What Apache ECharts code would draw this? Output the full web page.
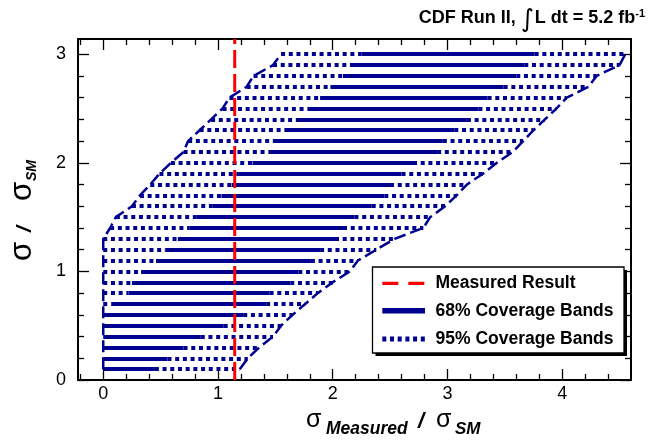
<!DOCTYPE html>
<html><head><meta charset="utf-8">
<script src="https://cdn.jsdelivr.net/npm/echarts@6/dist/echarts.min.js"></script>
<style>html,body{margin:0;padding:0;background:#fff}#c{width:648px;height:442px}</style>
</head><body><div id="c"></div>
<script>
// true cross section (sigma / sigma_SM) rows
const sigmaTrue = [0.1,0.2,0.3,0.4,0.5,0.6,0.7,0.8,0.9,1.0,1.1,1.2,1.3,1.4,1.5,1.6,1.7,1.8,1.9,2.0,2.1,2.2,2.3,2.4,2.5,2.6,2.7,2.8,2.9,3.0];
// 95% coverage band (sigma_measured / sigma_SM)
const lo95 = [0,0,0,0,0,0,0,0,0,0,0,0,0,0.06,0.11,0.25,0.32,0.41,0.49,0.59,0.70,0.74,0.84,0.94,1.04,1.10,1.25,1.31,1.48,1.55];
const hi95 = [1.19,1.26,1.36,1.48,1.55,1.65,1.76,1.87,2.00,2.15,2.22,2.38,2.54,2.79,2.85,2.98,3.08,3.17,3.31,3.43,3.57,3.66,3.75,3.85,3.95,4.04,4.23,4.30,4.50,4.55];
// 68% coverage band
const lo68 = [0,0,0,0,0,0,0.07,0.22,0.25,0.33,0.46,0.54,0.65,0.75,0.81,0.95,1.03,1.12,1.16,1.30,1.44,1.48,1.58,1.68,1.78,1.89,1.98,2.09,2.15,2.25];
const hi68 = [0.45,0.56,0.70,0.85,1.05,1.22,1.42,1.45,1.63,1.70,1.81,1.89,2.02,2.09,2.19,2.34,2.45,2.50,2.60,2.70,2.91,2.96,3.06,3.17,3.27,3.35,3.49,3.60,3.67,3.76];
// measured result
const measured = 1.146;
// axes
const xRange = [-0.22, 4.6];
const yRange = [0, 3.14];
const xMajor = [0,1,2,3,4];
const xMinor = [-0.2,0.2,0.4,0.6,0.8,1.2,1.4,1.6,1.8,2.2,2.4,2.6,2.8,3.2,3.4,3.6,3.8,4.2,4.4];
const yMajor = [0,1,2,3];
const yMinor = [0.2,0.4,0.6,0.8,1.2,1.4,1.6,1.8,2.2,2.4,2.6,2.8];
const legendNames = ['Measured Result','68% Coverage Bands','95% Coverage Bands'];

const NAVY = '#000090';
const FONT = 'Liberation Sans';

function axis(kind, pos, vals, len, lineShow, labelShow) {
  const r = kind === 'x' ? xRange : yRange;
  return {
    type: 'value', position: pos, min: r[0], max: r[1],
    axisLine: {show: lineShow, onZero: false, lineStyle: {color: '#000', width: 2}},
    axisTick: {show: true, inside: true, length: len, customValues: vals, lineStyle: {color: '#000', width: 1.3}},
    axisLabel: labelShow ? {show: true, customValues: vals, margin: kind === 'x' ? 5 : 12, fontSize: 18, color: '#000', fontFamily: FONT} : {show: false},
    splitLine: {show: false}, minorTick: {show: false}
  };
}

// band segments
const dots = [], solids = [];
sigmaTrue.forEach((y, i) => {
  if (lo68[i] > lo95[i]) dots.push({coords: [[lo95[i], y], [lo68[i], y]]});
  dots.push({coords: [[hi68[i], y], [hi95[i], y]]});
  solids.push({coords: [[lo68[i], y], [hi68[i], y]]});
});

const chart = echarts.init(document.getElementById('c'), null, {renderer: 'canvas'});

const lx = 372.5, ly = 267, lw = 251.5, lh = 86;
const rows = [283.3, 310.7, 339];

chart.setOption({
  animation: false,
  grid: {left: 78, right: 17, top: 39, bottom: 62, containLabel: false},
  xAxis: [
    axis('x', 'bottom', xMajor, 11, true, true),
    axis('x', 'bottom', xMinor, 6, false, false),
    axis('x', 'top', xMajor, 11, true, false),
    axis('x', 'top', xMinor, 6, false, false)
  ],
  yAxis: [
    axis('y', 'left', yMajor, 11, true, true),
    axis('y', 'left', yMinor, 6, false, false),
    axis('y', 'right', yMajor, 11, true, false),
    axis('y', 'right', yMinor, 6, false, false)
  ],
  series: [
    {type: 'lines', name: legendNames[2], coordinateSystem: 'cartesian2d', xAxisIndex: 0, yAxisIndex: 0, silent: true, z: 2,
     lineStyle: {color: NAVY, width: 4, type: [4, 3.7], cap: 'butt', opacity: 1}, data: dots},
    {type: 'lines', name: legendNames[1], coordinateSystem: 'cartesian2d', xAxisIndex: 0, yAxisIndex: 0, silent: true, z: 3,
     lineStyle: {color: NAVY, width: 4, type: 'solid', cap: 'butt', opacity: 1}, data: solids},
    {type: 'line', name: 'lower edge', xAxisIndex: 0, yAxisIndex: 0, symbol: 'none', silent: true, z: 4,
     lineStyle: {color: NAVY, width: 2.5, type: [12, 5]}, data: sigmaTrue.map((y, i) => [lo95[i], y])},
    {type: 'line', name: 'upper edge', xAxisIndex: 0, yAxisIndex: 0, symbol: 'none', silent: true, z: 4,
     lineStyle: {color: NAVY, width: 2.5, type: [12, 5]}, data: sigmaTrue.map((y, i) => [hi95[i], y])},
    {type: 'line', name: legendNames[0], xAxisIndex: 0, yAxisIndex: 0, symbol: 'none', silent: true, z: 5,
     lineStyle: {color: '#ff0000', width: 3, type: [18, 6]}, data: [[measured, yRange[0]], [measured, yRange[1]]]}
  ],
  graphic: [
    // title
    {type: 'text', x: 645, y: 18.4, z: 10, style: {
      text: '{a|CDF Run II, }{i|∫}{a|L dt = 5.2 fb}{b|-1}', align: 'right', verticalAlign: 'middle',
      rich: {a: {fontSize: 18, fontWeight: 'bold', fontFamily: FONT, fill: '#000'},
             i: {fontSize: 25, fontFamily: 'DejaVu Sans', fill: '#000', padding: [4, 1, 0, 0]},
             b: {fontSize: 11, fontWeight: 'bold', fontFamily: FONT, fill: '#000', padding: [0, 0, 8, 0]}}}},
    // x axis title
    {type: 'text', x: 306, y: 420, style: {text: 'σ', fontSize: 25, fontFamily: FONT, fill: '#000', align: 'left', verticalAlign: 'middle'}},
    {type: 'text', x: 326, y: 429, style: {text: 'Measured', fontSize: 17.5, fontWeight: 'bold', fontStyle: 'italic', fontFamily: FONT, fill: '#000', align: 'left', verticalAlign: 'middle'}},
    {type: 'text', x: 418, y: 422, style: {text: '/', fontSize: 22, fontWeight: 'bold', fontStyle: 'italic', fontFamily: FONT, fill: '#000', align: 'left', verticalAlign: 'middle'}},
    {type: 'text', x: 436, y: 420, style: {text: 'σ', fontSize: 25, fontFamily: FONT, fill: '#000', align: 'left', verticalAlign: 'middle'}},
    {type: 'text', x: 455, y: 429.5, style: {text: 'SM', fontSize: 17, fontWeight: 'bold', fontStyle: 'italic', fontFamily: FONT, fill: '#000', align: 'left', verticalAlign: 'middle'}},
    // y axis title (rotated)
    {type: 'text', x: 22, y: 261, rotation: Math.PI / 2, style: {text: 'σ', fontSize: 31, fontFamily: FONT, fill: '#000', align: 'left', verticalAlign: 'middle'}},
    {type: 'text', x: 25, y: 232, rotation: Math.PI / 2, style: {text: '/', fontSize: 21, fontWeight: 'bold', fontStyle: 'italic', fontFamily: FONT, fill: '#000', align: 'left', verticalAlign: 'middle'}},
    {type: 'text', x: 22, y: 201, rotation: Math.PI / 2, style: {text: 'σ', fontSize: 31, fontFamily: FONT, fill: '#000', align: 'left', verticalAlign: 'middle'}},
    {type: 'text', x: 32.4, y: 181, rotation: Math.PI / 2, style: {text: 'SM', fontSize: 14, fontWeight: 'bold', fontStyle: 'italic', fontFamily: FONT, fill: '#000', align: 'left', verticalAlign: 'middle'}},
    // legend
    {type: 'rect', z: 20, shape: {x: lx + 3, y: ly + 3, width: lw, height: lh}, style: {fill: '#000'}},
    {type: 'rect', z: 21, shape: {x: lx, y: ly, width: lw, height: lh}, style: {fill: '#fff', stroke: '#000', lineWidth: 1.3}},
    {type: 'line', z: 22, shape: {x1: 382.3, y1: rows[0], x2: 425, y2: rows[0]}, style: {stroke: '#ff0000', lineWidth: 3.3, lineDash: [16, 10]}},
    {type: 'line', z: 22, shape: {x1: 382.3, y1: rows[1], x2: 425, y2: rows[1]}, style: {stroke: NAVY, lineWidth: 5.5}},
    {type: 'line', z: 22, shape: {x1: 382.3, y1: rows[2], x2: 425, y2: rows[2]}, style: {stroke: NAVY, lineWidth: 5, lineDash: [4, 3.7]}},
    ...legendNames.map((t, i) => ({type: 'text', z: 22, x: 435.5, y: rows[i], style: {
      text: t, fontSize: 17.5, fontWeight: 'bold', fontFamily: FONT, fill: '#000', align: 'left', verticalAlign: 'middle'}}))
  ]
});
</script>
</body></html>
